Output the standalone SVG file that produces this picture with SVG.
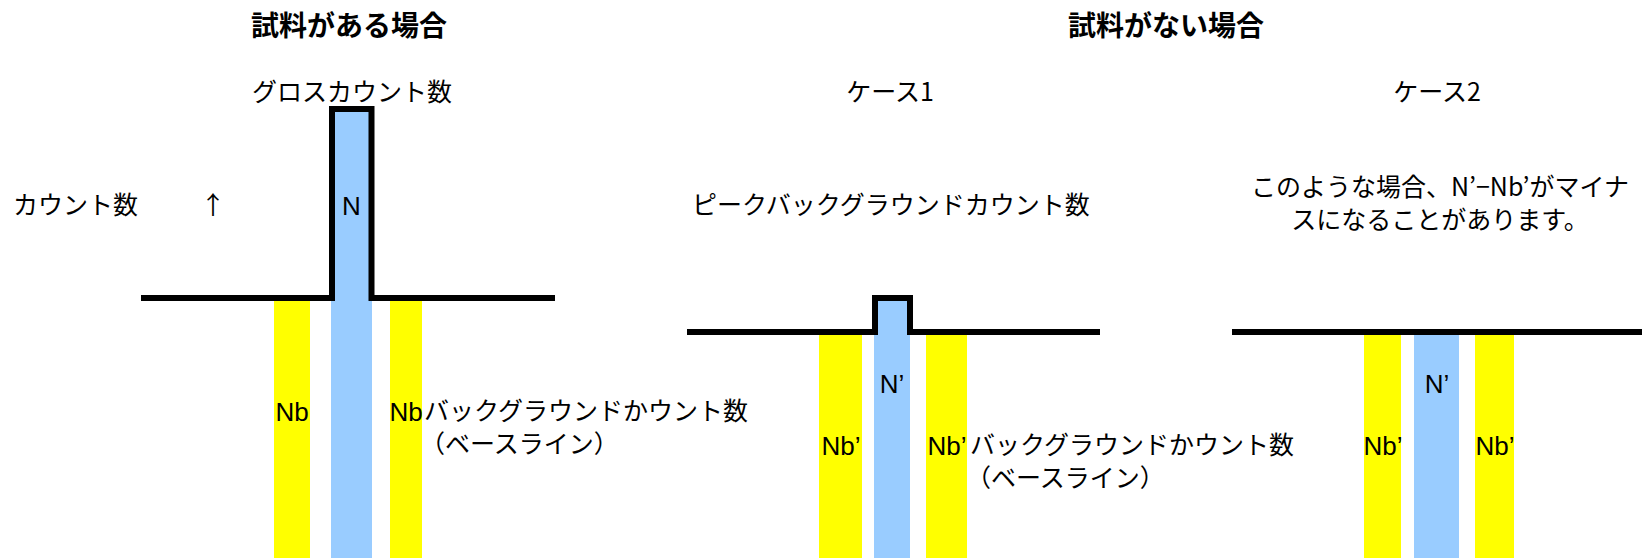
<svg xmlns="http://www.w3.org/2000/svg" width="1642" height="560" viewBox="0 0 1642 560">
<style>
.jp{font-family:"Noto Sans CJK JP","Liberation Sans",sans-serif;font-size:25px;fill:#000}
.title{font-family:"Noto Sans CJK JP","Liberation Sans",sans-serif;font-size:28px;font-weight:bold;fill:#000}
.lat{font-family:"Liberation Sans","Noto Sans CJK JP",sans-serif;font-size:26px;fill:#000}
.mid{text-anchor:middle}
.yel{fill:#FFFF00}
.blu{fill:#99CCFF}
.line{fill:none;stroke:#000;stroke-width:6;stroke-linejoin:miter}
</style>
<rect width="1642" height="560" fill="#fff"/>

<g id="sample-present">
  <text class="title mid" x="349" y="36">試料がある場合</text>
  <text class="jp mid" x="352" y="101">グロスカウント数</text>
  <text class="jp" x="13" y="214">カウント数</text>
  <text class="jp mid" x="213" y="214">↑</text>
  <rect class="yel" x="274" y="301" width="36" height="257"/>
  <rect class="blu" x="331" y="109" width="41" height="449"/>
  <rect class="yel" x="390" y="301" width="32" height="257"/>
  <path class="line" d="M141 298 H332 V109 H371.5 V298 H555"/>
  <text class="lat mid" x="351.5" y="215">N</text>
  <text class="lat mid" x="292" y="421">Nb</text>
  <text class="lat mid" x="406" y="421">Nb</text>
  <text class="jp" x="424" y="420">バックグラウンドかウント数</text>
  <text class="jp" x="420" y="453">（ベースライン）</text>
</g>

<g id="sample-absent-title">
  <text class="title mid" x="1166" y="36">試料がない場合</text>
</g>

<g id="case1">
  <text class="jp mid" x="890" y="101">ケース1</text>
  <text class="jp mid" x="891" y="214">ピークバックグラウンドカウント数</text>
  <rect class="yel" x="819" y="335" width="43" height="223"/>
  <rect class="blu" x="874" y="298" width="36" height="260"/>
  <rect class="yel" x="926" y="335" width="41" height="223"/>
  <path class="line" d="M687 332 H875 V298 H910 V332 H1100"/>
  <text class="lat mid" x="892" y="393">N’</text>
  <text class="lat mid" x="841" y="455">Nb’</text>
  <text class="lat mid" x="947" y="455">Nb’</text>
  <text class="jp" x="970" y="454">バックグラウンドかウント数</text>
  <text class="jp" x="966" y="487">（ベースライン）</text>
</g>

<g id="case2">
  <text class="jp mid" x="1437" y="101">ケース2</text>
  <text class="jp mid" x="1440" y="196">このような場合、N’−Nb’がマイナ</text>
  <text class="jp mid" x="1440" y="229">スになることがあります。</text>
  <rect class="yel" x="1364" y="335" width="37" height="223"/>
  <rect class="blu" x="1414" y="335" width="45" height="223"/>
  <rect class="yel" x="1475" y="335" width="39" height="223"/>
  <path class="line" d="M1232 332 H1642"/>
  <text class="lat mid" x="1437" y="393">N’</text>
  <text class="lat mid" x="1383" y="455">Nb’</text>
  <text class="lat mid" x="1495" y="455">Nb’</text>
</g>

<g id="connectors"></g>
</svg>
